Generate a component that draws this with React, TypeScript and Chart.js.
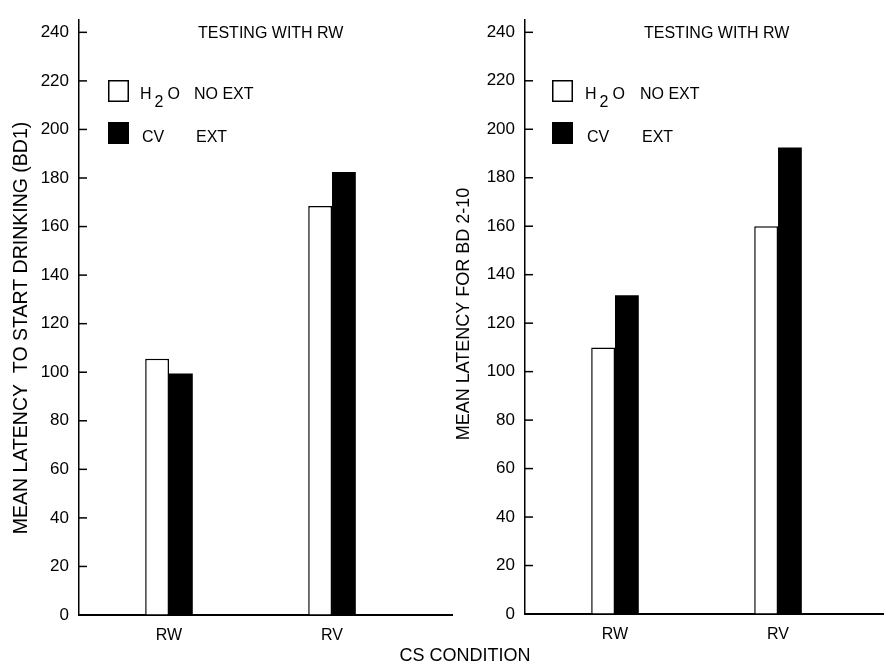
import React, { useEffect, useRef } from 'react';
import { Chart, registerables } from 'chart.js';

Chart.register(...registerables);

// ---------- data ----------
const categories = ['RW', 'RV'];
const yTicks = [0, 20, 40, 60, 80, 100, 120, 140, 160, 180, 200, 220, 240];
const leftH2O = [105.5, 168.5];
const leftCV = [99.5, 182.5];
const rightH2O = [110, 160];
const rightCV = [131.5, 192.5];
const seriesNames = ['H2O', 'CV'];
const seriesConditions = ['NO EXT', 'EXT'];
const panelTitle = 'TESTING WITH RW';
const leftYTitle = 'MEAN LATENCY  TO START DRINKING (BD1)';
const rightYTitle = 'MEAN LATENCY FOR BD 2-10';
const xTitle = 'CS CONDITION';

const FONT = '"Liberation Sans", Arial, Helvetica, sans-serif';
const W = 884;
const H = 663;

type Panel = {
  h2o: number[];
  cv: number[];
  yTitle: string;
  yTitleSize: number;
  yTitleCx: number;
  yTitleCy: number;
  axisX: number;
  rightX: number;
  topY: number;
  bottomY: number;
  xMin: number;
  xMax: number;
  legendDx: number;
  textDx: number;
  condDx: number;
  drawXTitle: boolean;
};

const leftPanel: Panel = {
  h2o: leftH2O,
  cv: leftCV,
  yTitle: leftYTitle,
  yTitleSize: 19.5,
  yTitleCx: 20,
  yTitleCy: 328,
  axisX: 79,
  rightX: 452,
  topY: 8,
  bottomY: 615,
  xMin: 0.448,
  xMax: 2.736,
  legendDx: 29,
  textDx: 61,
  condDx: 115,
  drawXTitle: true,
};

const rightPanel: Panel = {
  h2o: rightH2O,
  cv: rightCV,
  yTitle: rightYTitle,
  yTitleSize: 18,
  yTitleCx: 463,
  yTitleCy: 314,
  axisX: 525,
  rightX: 884,
  topY: 7,
  bottomY: 614,
  xMin: 0.448,
  xMax: 2.65,
  legendDx: 27,
  textDx: 60,
  condDx: 115,
  drawXTitle: false,
};

function capText(ctx: CanvasRenderingContext2D, text: string, x: number, cy: number, size: number, align: CanvasTextAlign = 'left') {
  ctx.font = `${size}px ${FONT}`;
  ctx.textAlign = align;
  ctx.textBaseline = 'alphabetic';
  ctx.fillText(text, x, cy + size * 0.358);
}

function makeDecor(p: Panel) {
  return {
    id: 'decor',
    afterDraw(chart: any) {
      const ctx: CanvasRenderingContext2D = chart.ctx;
      const area = chart.chartArea;
      const ys = chart.scales.y;
      ctx.save();
      ctx.fillStyle = '#000';
      ctx.strokeStyle = '#000';
      // inward tick marks
      ctx.lineWidth = 1.5;
      yTicks.forEach((v) => {
        const y = ys.getPixelForValue(v);
        ctx.beginPath();
        ctx.moveTo(area.left, y);
        ctx.lineTo(area.left + 8, y);
        ctx.stroke();
      });
      // panel title
      capText(ctx, panelTitle, area.left + 119, 32, 16);
      // legend
      const bx = area.left + p.legendDx;
      const tx = area.left + p.textDx;
      const cx = area.left + p.condDx;
      // row 1 (white)
      ctx.fillStyle = '#fff';
      ctx.fillRect(bx, 80, 21, 22);
      ctx.lineWidth = 1.5;
      ctx.strokeRect(bx + 0.75, 80.75, 19.5, 20.5);
      ctx.fillStyle = '#000';
      const name0 = seriesNames[0];
      capText(ctx, name0.charAt(0), tx, 93, 16);
      ctx.font = `16px ${FONT}`;
      const hW = ctx.measureText(name0.charAt(0)).width;
      capText(ctx, name0.charAt(1), tx + hW + 3, 101.5, 16);
      const twoW = ctx.measureText(name0.charAt(1)).width;
      capText(ctx, name0.charAt(2), tx + hW + 3 + twoW + 4, 93, 16);
      capText(ctx, seriesConditions[0], cx, 93, 16);
      // row 2 (black)
      ctx.fillRect(bx, 122, 21, 22);
      capText(ctx, seriesNames[1], tx + 2, 136, 16);
      capText(ctx, seriesConditions[1], cx + 2, 136, 16);
      // y title
      ctx.save();
      ctx.translate(p.yTitleCx, p.yTitleCy);
      ctx.rotate(-Math.PI / 2);
      ctx.font = `${p.yTitleSize}px ${FONT}`;
      ctx.textAlign = 'center';
      ctx.textBaseline = 'alphabetic';
      ctx.fillText(p.yTitle, 0, p.yTitleSize * 0.358);
      ctx.restore();
      if (p.drawXTitle) {
        capText(ctx, xTitle, 465, 655, 18, 'center');
      }
      ctx.restore();
    },
  };
}

function buildChart(canvas: HTMLCanvasElement, p: Panel) {
  return new Chart(canvas, {
    type: 'bar',
    data: {
      datasets: [
        {
          label: seriesNames[0],
          data: p.h2o.map((v, i) => ({ x: i + 1, y: v })),
          backgroundColor: '#ffffff',
          borderColor: '#000000',
          borderWidth: 1.5,
          borderSkipped: 'bottom',
          categoryPercentage: 0.292,
          barPercentage: 1,
        } as any,
        {
          label: seriesNames[1],
          data: p.cv.map((v, i) => ({ x: i + 1, y: v })),
          backgroundColor: '#000000',
          borderColor: '#000000',
          borderWidth: 0,
          categoryPercentage: 0.292,
          barPercentage: 1,
        } as any,
      ],
    },
    options: {
      responsive: false,
      animation: false,
      devicePixelRatio: 1,
      layout: {
        padding: { left: 0, right: W - p.rightX, top: p.topY, bottom: 0 },
      },
      plugins: {
        legend: { display: false },
        tooltip: { enabled: false },
        title: { display: false },
      },
      scales: {
        x: {
          type: 'linear',
          offset: false,
          min: p.xMin,
          max: p.xMax,
          afterBuildTicks: (scale: any) => {
            scale.ticks = categories.map((_, i) => ({ value: i + 1 }));
          },
          afterFit: (scale: any) => {
            scale.height = H - p.bottomY;
          },
          ticks: {
            callback: (v: any) => categories[Number(v) - 1] ?? '',
            color: '#000',
            font: { family: FONT, size: 16 },
            padding: 11,
            maxRotation: 0,
            autoSkip: false,
          },
          grid: { display: true, drawOnChartArea: false, drawTicks: false },
          border: { display: true, color: '#000', width: 2 },
        },
        y: {
          type: 'linear',
          min: 0,
          max: 245,
          afterBuildTicks: (scale: any) => {
            scale.ticks = yTicks.map((v) => ({ value: v }));
          },
          afterFit: (scale: any) => {
            scale.width = p.axisX;
          },
          ticks: {
            color: '#000',
            font: { family: FONT, size: 17 },
            padding: 10,
          },
          grid: { display: true, drawOnChartArea: false, drawTicks: false },
          border: { display: true, color: '#000', width: 1.5 },
        },
      },
    } as any,
    plugins: [makeDecor(p)],
  });
}

export default function App() {
  const leftRef = useRef<HTMLCanvasElement>(null);
  const rightRef = useRef<HTMLCanvasElement>(null);

  useEffect(() => {
    document.body.style.margin = '0';
    const a = buildChart(leftRef.current!, leftPanel);
    const b = buildChart(rightRef.current!, rightPanel);
    return () => {
      a.destroy();
      b.destroy();
    };
  }, []);

  const cs: React.CSSProperties = { position: 'absolute', left: 0, top: 0, width: W, height: H };
  return (
    <div style={{ position: 'absolute', left: 0, top: 0, width: W, height: H, background: '#fff' }}>
      <canvas ref={leftRef} width={W} height={H} style={cs} />
      <canvas ref={rightRef} width={W} height={H} style={cs} />
    </div>
  );
}
